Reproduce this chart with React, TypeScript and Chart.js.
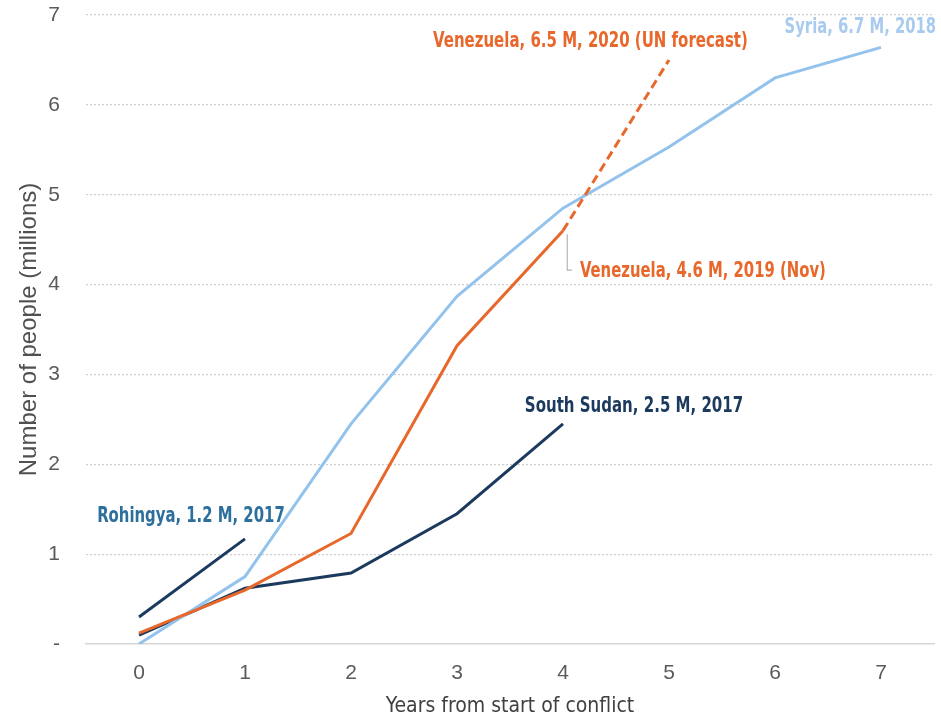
import { useEffect, useRef } from 'react';
import { Chart, registerables } from 'chart.js';

Chart.register(...registerables);

// ---- Data ----
const years = ['0', '1', '2', '3', '4', '5', '6', '7'];
const syria = [0.0, 0.75, 2.45, 3.87, 4.85, 5.53, 6.3, 6.64];
const venezuela = [0.12, 0.6, 1.23, 3.32, 4.6, null, null, null];
const venezuelaForecast = [null, null, null, null, 4.6, 6.5, null, null];
const southSudan = [0.1, 0.62, 0.79, 1.45, 2.45, null, null, null];
const rohingya = [0.3, 1.17, null, null, null, null, null, null];
const yTickLabels = ['-', '1', '2', '3', '4', '5', '6', '7'];

const labelTexts = {
  venForecast: 'Venezuela, 6.5 M, 2020 (UN forecast)',
  syria: 'Syria, 6.7 M, 2018',
  venNov: 'Venezuela, 4.6 M, 2019 (Nov)',
  southSudan: 'South Sudan, 2.5 M, 2017',
  rohingya: 'Rohingya, 1.2 M, 2017',
};

const ORANGE = '#e8682c';
const LIGHTBLUE = '#93c3ec';
const NAVY = '#1c3a5e';
const TEAL = '#2d6f9c';
const LABEL_FONT = 'bold 22px "Liberation Sans Narrow", "DejaVu Sans Condensed", "Arial Narrow", sans-serif';

const annotationPlugin = {
  id: 'annotations',
  afterDatasetsDraw(chart: any) {
    const { ctx } = chart;
    const xs = chart.scales.x;
    const ys = chart.scales.y;
    const px = (v: number) => xs.getPixelForValue(v);
    const py = (v: number) => ys.getPixelForValue(v);
    ctx.save();
    // leader line for Venezuela Nov 2019
    ctx.strokeStyle = '#b5b5b5';
    ctx.lineWidth = 1.2;
    ctx.beginPath();
    ctx.moveTo(px(4.04), py(4.56));
    ctx.lineTo(px(4.04), py(4.16));
    ctx.lineTo(px(4.085), py(4.16));
    ctx.stroke();

    ctx.font = LABEL_FONT;
    ctx.textBaseline = 'middle';
    const items = [
      { t: labelTexts.venForecast, x: 2.774, y: 6.71, c: ORANGE, a: 'left', w: 2.97 },
      { t: labelTexts.syria, x: 7.52, y: 6.86, c: '#a8cbef', a: 'right', w: 1.43 },
      { t: labelTexts.venNov, x: 4.16, y: 4.15, c: ORANGE, a: 'left', w: 2.32 },
      { t: labelTexts.southSudan, x: 3.64, y: 2.65, c: NAVY, a: 'left', w: 2.06 },
      { t: labelTexts.rohingya, x: -0.395, y: 1.425, c: TEAL, a: 'left', w: 1.77 },
    ];
    const unit = px(1) - px(0);
    for (const it of items) {
      ctx.fillStyle = it.c;
      ctx.textAlign = it.a;
      ctx.fillText(it.t, px(it.x), py(it.y), it.w * unit);
    }
    ctx.restore();
  },
};

export default function App() {
  const canvasRef = useRef<HTMLCanvasElement | null>(null);

  useEffect(() => {
    document.body.style.margin = '0';
    const canvas = canvasRef.current;
    if (!canvas) return;
    const line = (data: (number | null)[], color: string, extra: any = {}) => ({
      data,
      borderColor: color,
      backgroundColor: color,
      borderWidth: 3,
      pointRadius: 0,
      pointHoverRadius: 0,
      tension: 0,
      spanGaps: false,
      fill: false,
      ...extra,
    });
    const chart = new Chart(canvas, {
      type: 'line',
      data: {
        labels: years,
        datasets: [
          line(venezuelaForecast, ORANGE, { borderDash: [9, 5], label: 'Venezuela forecast' }),
          line(venezuela, ORANGE, { label: 'Venezuela' }),
          line(syria, LIGHTBLUE, { label: 'Syria' }),
          line(southSudan, NAVY, { label: 'South Sudan' }),
          line(rohingya, NAVY, { label: 'Rohingya' }),
        ],
      },
      options: {
        animation: false,
        responsive: false,
        devicePixelRatio: 1,
        layout: { padding: { top: 15, right: 7, left: 0, bottom: 0 } },
        plugins: {
          legend: { display: false },
          tooltip: { enabled: false },
          title: { display: false },
        },
        scales: {
          x: {
            type: 'category',
            offset: true,
            grid: { display: false, drawTicks: false },
            border: { display: true, color: '#d6d6d6', width: 1.5 },
            ticks: {
              color: '#5a5a5a',
              padding: 17,
              font: { family: '"Liberation Sans", Arial, sans-serif', size: 21 },
            },
            title: {
              display: true,
              text: 'Years from start of conflict',
              color: '#404040',
              font: { family: '"Liberation Sans Narrow", "DejaVu Sans Condensed", sans-serif', size: 21 },
              padding: { top: 0, bottom: 0 },
            },
            afterFit: (s: any) => { s.height = 75; s.paddingLeft = 0; s.paddingRight = 0; },
          },
          y: {
            min: 0,
            max: 7,
            grid: {
              drawTicks: false,
              color: (c: any) => (c.tick && c.tick.value === 0 ? 'rgba(0,0,0,0)' : '#cdcdcd'),
              lineWidth: 1.2,
            },
            border: { display: false, dash: [2, 2] },
            ticks: {
              stepSize: 1,
              color: '#5a5a5a',
              padding: 26,
              font: { family: '"Liberation Sans", Arial, sans-serif', size: 21 },
              callback: (v: any) => yTickLabels[Number(v)] ?? String(v),
            },
            title: {
              display: true,
              text: 'Number of people (millions)',
              color: '#505050',
              font: { family: '"Liberation Sans", Arial, sans-serif', size: 24 },
              padding: { top: 15, bottom: 0 },
            },
            afterFit: (s: any) => { s.width = 86; s.paddingTop = 0; s.paddingBottom = 0; },
          },
        },
      },
      plugins: [annotationPlugin],
    } as any);
    return () => chart.destroy();
  }, []);

  return (
    <div style={{ width: 941, height: 719 }}>
      <canvas ref={canvasRef} width={941} height={719} style={{ width: 941, height: 719, display: 'block' }} />
    </div>
  );
}
